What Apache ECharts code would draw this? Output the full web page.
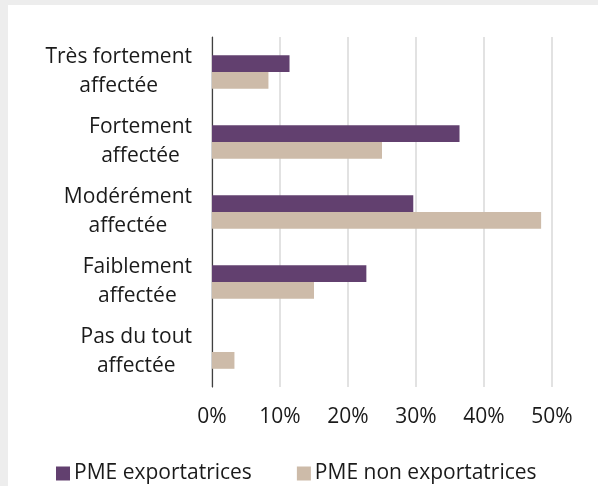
<!DOCTYPE html>
<html><head><meta charset="utf-8">
<script src="https://cdn.jsdelivr.net/npm/echarts@6/dist/echarts.min.js"></script>
<style>html,body{margin:0;padding:0;background:#ededed}#c{width:598px;height:486px}</style>
</head><body><div id="c"></div>
<script>
var categories = ['Très fortement\naffectée','Fortement\naffectée','Modérément\naffectée','Faiblement\naffectée','Pas du tout\naffectée'];
var exportatrices = [11.4, 36.4, 29.6, 22.7, 0];
var nonExportatrices = [8.3, 25.0, 48.4, 15.0, 3.3];
var seriesNames = ['PME exportatrices','PME non exportatrices'];
var tickValues = [0,10,20,30,40,50];

var chart = echarts.init(document.getElementById('c'));
var font = '"Open Sans", sans-serif';
chart.setOption({
  backgroundColor: '#ededed',
  animation: false,
  graphic: [{type:'rect', left: 8, top: 5, shape:{width: 590, height: 481}, style:{fill:'#ffffff'}, z: -10}],
  grid: {left: 212, right: 46, top: 37, bottom: 99, containLabel: false},
  legend: {
    top: 458, left: 51, itemWidth: 14, itemHeight: 14, itemGap: 45, icon: 'rect',
    textStyle: {fontFamily: font, fontSize: 21, color: '#1a1a1a', padding: [0, 0, 0, -1]},
    data: seriesNames
  },
  xAxis: {
    type: 'value', min: 0, max: 50, interval: 10,
    axisLabel: {formatter: '{value}%', fontFamily: font, fontSize: 21, color: '#1a1a1a', margin: 20},
    splitLine: {lineStyle: {color: '#d9d9d9', width: 1.5}},
    axisLine: {show: false}, axisTick: {show: false}
  },
  yAxis: {
    type: 'category', inverse: true, data: categories,
    axisLine: {show: true, lineStyle: {color: '#404040', width: 1.2}},
    axisTick: {show: false},
    axisLabel: {
      margin: 20, align: 'right',
      formatter: function(v){ return v.split('\n').map(function(s){return '{a|'+s+'}';}).join('\n'); },
      rich: {a: {fontFamily: font, fontSize: 21, color: '#1a1a1a', align: 'center', lineHeight: 29}}
    }
  },
  series: [
    {name: seriesNames[0], type: 'bar', data: exportatrices, barGap: '0%', barCategoryGap: '52%',
     itemStyle: {color: '#62406f'}},
    {name: seriesNames[1], type: 'bar', data: nonExportatrices, barGap: '0%', barCategoryGap: '52%',
     itemStyle: {color: '#cdbba9'}}
  ]
});
</script></body></html>
